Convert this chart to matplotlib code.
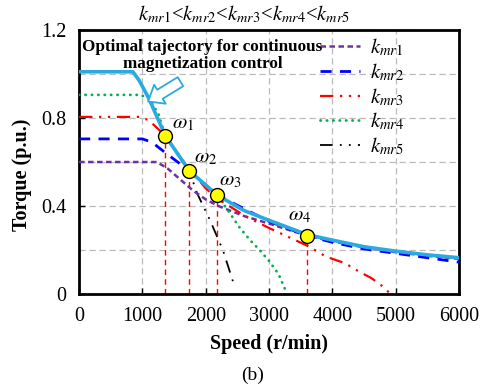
import numpy as np
import matplotlib
matplotlib.use("Agg")
import matplotlib.pyplot as plt

plt.rcParams['font.family'] = ['Liberation Serif', 'DejaVu Serif']
plt.rcParams['mathtext.fontset'] = 'stix'

# optimal trajectory (continuous magnetization control)
opt_speed = [0, 850, 950, 1100, 1360, 1740, 2180, 2600, 3000, 3600, 4000, 4500, 5000, 5500, 6000]
opt_torque = [1.01, 1.01, 0.97, 0.89, 0.72, 0.56, 0.45, 0.38, 0.335, 0.27, 0.245, 0.215, 0.195, 0.178, 0.165]

k1_speed = [0, 1230, 1400, 1600, 1800, 2000, 2200, 2600, 3000, 3600, 4000, 4500, 5000, 5500, 6000]
k1_torque = [0.60, 0.60, 0.57, 0.52, 0.47, 0.43, 0.40, 0.355, 0.32, 0.265, 0.24, 0.212, 0.19, 0.174, 0.16]

k2_speed = [0, 1000, 1150, 1350, 1740, 2180, 3000, 3600, 4000, 4500, 5000, 5500, 6000]
k2_torque = [0.705, 0.705, 0.69, 0.645, 0.56, 0.45, 0.33, 0.265, 0.235, 0.205, 0.185, 0.165, 0.145]

k3_speed = [0, 960, 1100, 1360, 1600, 1800, 2000, 2200, 2650, 3000, 3600, 3900, 4200, 4430, 4600, 4750, 4900]
k3_torque = [0.805, 0.805, 0.79, 0.72, 0.62, 0.55, 0.48, 0.43, 0.35, 0.30, 0.22, 0.17, 0.14, 0.10, 0.075, 0.045, 0.005]

k4_speed = [0, 960, 1100, 1250, 1360, 1740, 2180, 2350, 2540, 2700, 2850, 3000, 3150, 3270]
k4_torque = [0.905, 0.905, 0.89, 0.82, 0.72, 0.56, 0.45, 0.38, 0.30, 0.245, 0.20, 0.15, 0.09, 0.01]

k5_speed = [0, 850, 950, 1100, 1360, 1740, 1860, 2060, 2270, 2460]
k5_torque = [1.01, 1.01, 0.97, 0.89, 0.72, 0.56, 0.46, 0.34, 0.20, 0.03]

w_speed = [1360, 1740, 2180, 3600]
w_torque = [0.72, 0.56, 0.45, 0.265]
w_labels = [r'$\omega_1$', r'$\omega_2$', r'$\omega_3$', r'$\omega_4$']

labels = [r'$k_{mr1}$', r'$k_{mr2}$', r'$k_{mr3}$', r'$k_{mr4}$', r'$k_{mr5}$']

fig = plt.figure(figsize=(4.88, 3.89), dpi=100)
ax = fig.add_axes([0.162, 0.244, 0.779, 0.679])

ax.plot(k1_speed, k1_torque, color='#7030A0', lw=1.8, dashes=(2.2, 1.4), label=labels[0], zorder=3)
ax.plot(k2_speed, k2_torque, color='#0000FF', lw=2.0, dashes=(4, 3), label=labels[1], zorder=3)
ax.plot(k3_speed, k3_torque, color='#FF0000', lw=1.6, dashes=(6, 3, 1, 3, 1, 3), label=labels[2], zorder=3)
ax.plot(k4_speed, k4_torque, color='#00B050', lw=2.0, linestyle=(0, (0.1, 2.2)),
        dash_capstyle='round', label=labels[3], zorder=3)
ax.plot(k5_speed, k5_torque, color='black', lw=1.3, dashes=(7, 4, 1, 4, 1, 4), label=labels[4], zorder=2)
ax.plot(opt_speed, opt_torque, color='#29ABE2', lw=2.6, zorder=4)

for s, t in zip(w_speed, w_torque):
    ax.plot([s, s], [0, t], color='#FF0000', lw=1.0, dashes=(4, 3), zorder=2)
ax.plot(w_speed, w_torque, 'o', ms=10, mfc='#FFFF00', mec='black', mew=1.0, zorder=6)
offs = [(18, 12), (16, 13), (13, 14), (-8, 20)]
for s, t, lab, o in zip(w_speed, w_torque, w_labels, offs):
    ax.annotate(lab, (s, t), xytext=o, textcoords='offset pixels', fontsize=15,
                ha='center', va='center', zorder=7)

ax.text(1950, 1.16, 'Optimal tajectory for continuous\nmagnetization control', fontsize=12.3,
        fontweight='bold', ha='center', va='top', linespacing=1.08, zorder=7)
ax.annotate('', xy=(1090, 0.875), xytext=(1600, 0.965),
            arrowprops=dict(arrowstyle='simple,head_length=0.5,head_width=0.8,tail_width=0.38',
                            mutation_scale=20, shrinkA=0, shrinkB=0,
                            fc='white', ec='#29ABE2', lw=1.3), zorder=7)

ax.set_xlim(0, 6000)
ax.set_ylim(0, 1.2)
ax.set_xticks(np.arange(0, 6001, 1000))
ax.set_yticks([0, 0.4, 0.8, 1.2])
ax.set_yticklabels(['0', '0.4', '0.8', '1.2'])
ax.set_yticks([0.2, 0.6, 1.0], minor=True)
ax.grid(True, which='both', color='#BBBBBB', linestyle=(0, (5, 3)), lw=0.9)
ax.tick_params(direction='in', labelsize=14.5, length=4, width=1, pad=9)
ax.tick_params(which='minor', length=0)
for sp in ax.spines.values():
    sp.set_linewidth(2)

ax.set_xlabel('Speed (r/min)', fontsize=14.5, fontweight='bold', labelpad=6)
ax.set_ylabel('Torque (p.u.)', fontsize=14.5, fontweight='bold', labelpad=5)
ax.yaxis.set_label_coords(-0.125, 0.45)

ax.legend(loc='upper left', bbox_to_anchor=(0.635, 0.975), frameon=False, fontsize=15,
          handlelength=1.9, labelspacing=0.15, borderaxespad=0, borderpad=0,
          handletextpad=0.5)

fig.text(0.5, 0.962, r'$k_{mr1}$<$k_{mr2}$<$k_{mr3}$<$k_{mr4}$<$k_{mr5}$',
         fontsize=14.8, ha='center', va='center')
fig.text(0.517, 0.035, '(b)', fontsize=14, ha='center', va='center')

fig.savefig('out.png', dpi=100)
